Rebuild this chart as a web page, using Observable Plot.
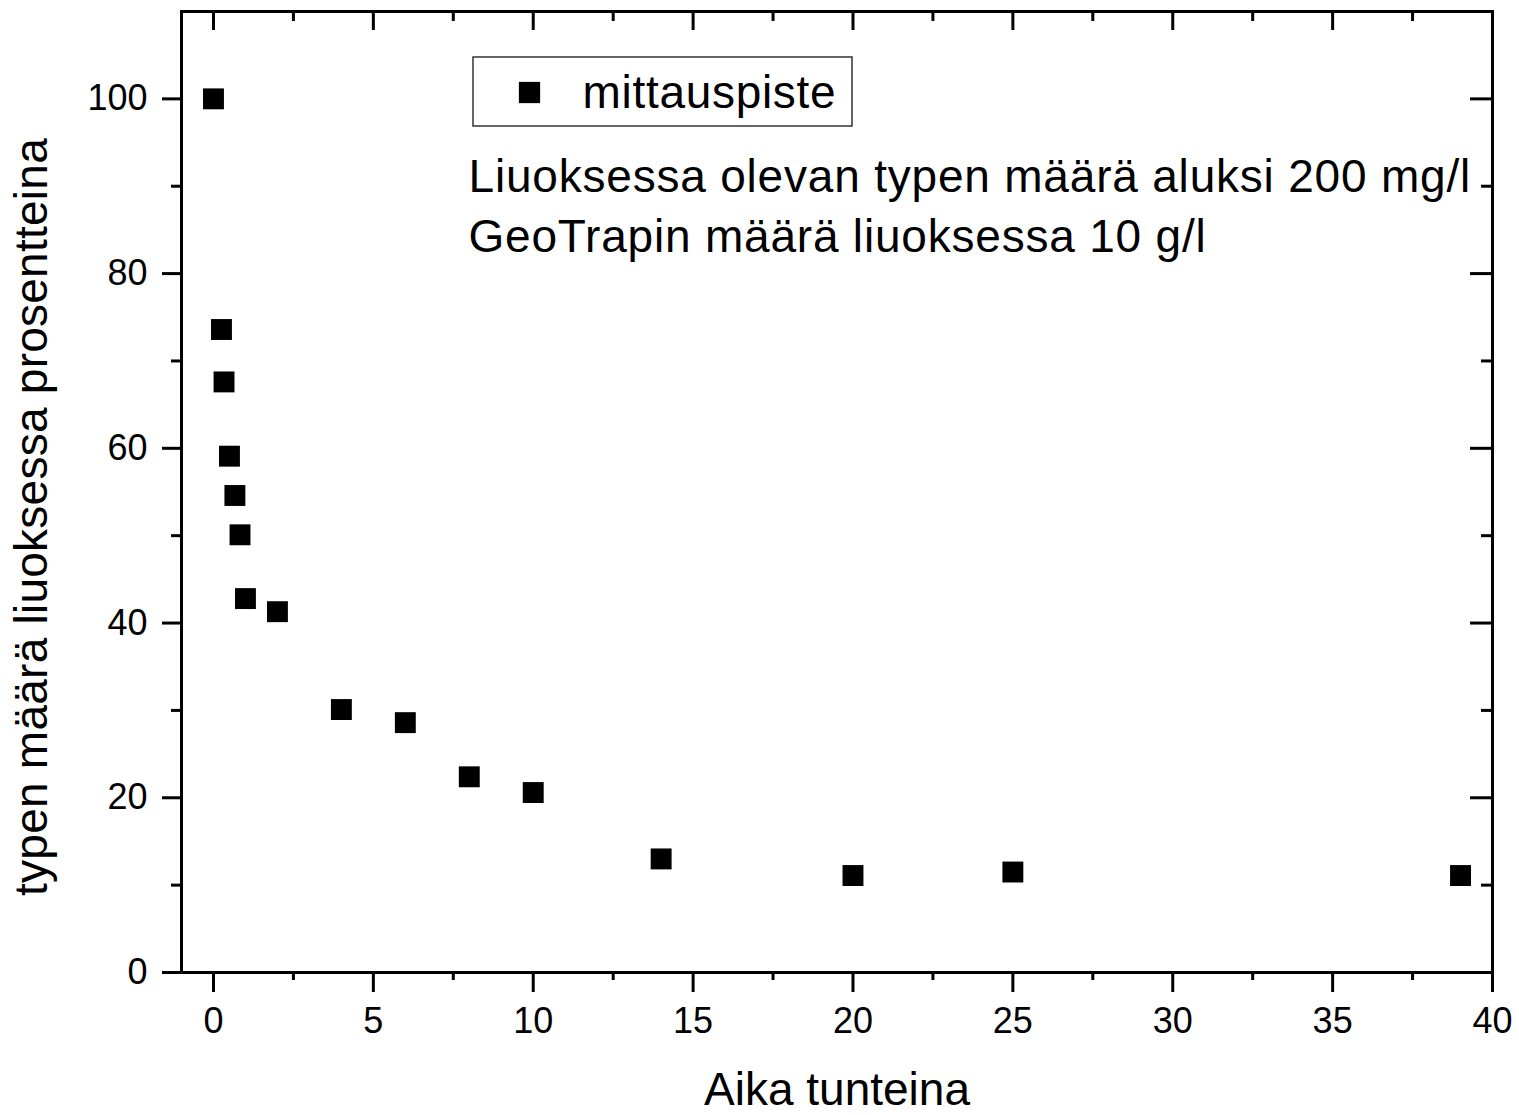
<!DOCTYPE html>
<html>
<head>
<meta charset="utf-8">
<script src="https://cdn.jsdelivr.net/npm/d3@7"></script>
<script src="https://cdn.jsdelivr.net/npm/@observablehq/plot@0.6"></script>
<style>
  body { margin: 0; background: #fff; }
  #chart svg { display: block; }
</style>
</head>
<body>
<div id="chart"></div>
<script>
// ---- data ----
const time = [0, 0.25, 0.33, 0.5, 0.67, 0.83, 1, 2, 4, 6, 8, 10, 14, 20, 25, 39];
const percent = [100, 73.6, 67.6, 59.1, 54.6, 50.1, 42.8, 41.3, 30.1, 28.6, 22.4, 20.6, 13.0, 11.1, 11.5, 11.1];

const xMajorTicks = [0, 5, 10, 15, 20, 25, 30, 35, 40];
const xMinorTicks = [2.5, 7.5, 12.5, 17.5, 22.5, 27.5, 32.5, 37.5];
const yMajorTicks = [0, 20, 40, 60, 80, 100];
const yMinorTicks = [10, 30, 50, 70, 90];

const xLabel = "Aika tunteina";
const yLabel = "typen määrä liuoksessa prosentteina";
const legendLabel = "mittauspiste";
const noteLines = ["Liuoksessa olevan typen määrä aluksi 200 mg/l", "GeoTrapin määrä liuoksessa 10 g/l"];

// ---- layout ----
const W = 1519, H = 1115, mL = 181, mR = 27, mT = 11, mB = 143;
const fw = W - mL - mR, fh = H - mT - mB;

const points = time.map((t, i) => ({t, p: percent[i]}));

// legend box drawn relative to the plot frame
function legendBox(index, scales, values, dims) {
  return d3.create("svg:rect")
    .attr("x", dims.marginLeft + 292)
    .attr("y", dims.marginTop + 46)
    .attr("width", 379)
    .attr("height", 69)
    .attr("fill", "none")
    .attr("stroke", "#333")
    .attr("stroke-width", 1.5)
    .node();
}

const chart = Plot.plot({
  width: W,
  height: H,
  marginLeft: mL,
  marginRight: mR,
  marginTop: mT,
  marginBottom: mB,
  style: {fontFamily: "'Liberation Sans', Arial, sans-serif", color: "black", background: "white", overflow: "visible"},
  x: {domain: [-1, 40]},
  y: {domain: [0, 110]},
  marks: [
    // outward major ticks + labels
    Plot.axisX(xMajorTicks, {anchor: "bottom", tickSize: 20, tickPadding: 15, strokeWidth: 3, fontSize: 36, label: null, tickFormat: d => String(d)}),
    Plot.axisY(yMajorTicks, {anchor: "left", tickSize: 19, tickPadding: 15, strokeWidth: 3, fontSize: 36, label: null, tickFormat: d => String(d)}),
    // outward minor ticks
    Plot.tickX(xMinorTicks, {x: d => d, insetTop: fh, insetBottom: -8, strokeWidth: 3}),
    Plot.tickY(yMinorTicks, {y: d => d, insetRight: fw, insetLeft: -10, strokeWidth: 3}),
    // inward ticks on top and right
    Plot.tickX(xMajorTicks, {x: d => d, insetBottom: fh - 19, strokeWidth: 3}),
    Plot.tickX(xMinorTicks, {x: d => d, insetBottom: fh - 10, strokeWidth: 3}),
    Plot.tickY(yMajorTicks.filter(d => d > 0), {y: d => d, insetLeft: fw - 22, strokeWidth: 3}),
    Plot.tickY(yMinorTicks, {y: d => d, insetLeft: fw - 11, strokeWidth: 3}),
    Plot.frame({stroke: "black", strokeWidth: 3}),
    // data
    Plot.dot(points, {x: "t", y: "p", symbol: "square", r: 11.8, fill: "black"}),
    // legend
    legendBox,
    Plot.dot([legendLabel], {frameAnchor: "top-left", dx: 348, dy: 81, symbol: "square", r: 12, fill: "black"}),
    Plot.text([legendLabel], {frameAnchor: "top-left", dx: 401, dy: 82, textAnchor: "start", lineAnchor: "middle", fontSize: 46, fill: "black"}),
    // annotation
    Plot.text([noteLines.join("\n")], {frameAnchor: "top-left", dx: 287, dy: 138, textAnchor: "start", lineAnchor: "top", lineHeight: 1.3, fontSize: 46, fill: "black"}),
    // axis titles
    Plot.text([xLabel], {frameAnchor: "bottom", dy: 118, textAnchor: "middle", lineAnchor: "middle", fontSize: 46, fill: "black"}),
    Plot.text([yLabel], {frameAnchor: "left", dx: -149, dy: 25, rotate: -90, textAnchor: "middle", lineAnchor: "middle", fontSize: 46, fill: "black"})
  ]
});

// widen the large texts slightly to match the reference's glyph widths
const spacing = [[yLabel, 0.25], [legendLabel, 0.7], [noteLines[0], 0.8]];
d3.select(chart).selectAll("text").each(function () {
  const s = this.textContent;
  for (const [k, v] of spacing) {
    if (s.startsWith(k)) this.setAttribute("letter-spacing", v + "px");
  }
});

document.getElementById("chart").appendChild(chart);
</script>
</body>
</html>
